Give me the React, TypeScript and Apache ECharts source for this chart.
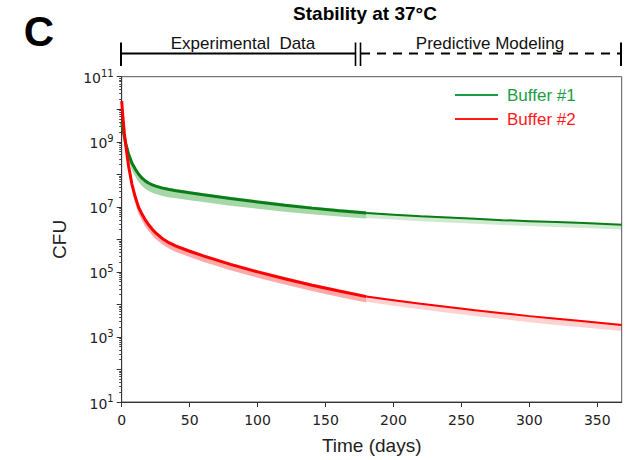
import React, { useEffect, useRef } from 'react';
import * as echarts from 'echarts';

// Time points (days)
const expDays = [0, 1, 2, 3, 5, 7.5, 10, 12.5, 15, 17.5, 20, 22.5, 25, 30, 35, 40, 50, 60, 80, 100, 120, 140, 160, 180];
const predDays = [180, 200, 220, 240, 260, 280, 300, 320, 340, 368];

// Buffer #1 (log10 CFU)
const b1Exp = [9.6, 9.35, 9.15, 8.95, 8.63, 8.35, 8.16, 8.0, 7.88, 7.79, 7.725, 7.675, 7.635, 7.575, 7.53, 7.495, 7.43, 7.37, 7.255, 7.15, 7.05, 6.96, 6.88, 6.81];
const b1ExpHi = [9.65, 9.4, 9.2, 9.0, 8.68, 8.4, 8.21, 8.05, 7.93, 7.84, 7.775, 7.725, 7.685, 7.625, 7.58, 7.545, 7.48, 7.42, 7.305, 7.2, 7.1, 7.01, 6.93, 6.86];
const b1ExpLo = [9.5, 9.22, 9.0, 8.78, 8.43, 8.13, 7.93, 7.76, 7.64, 7.55, 7.485, 7.435, 7.395, 7.335, 7.29, 7.265, 7.2, 7.15, 7.035, 6.94, 6.85, 6.77, 6.7, 6.64];
const b1Pred = [6.81, 6.76, 6.71, 6.67, 6.63, 6.59, 6.56, 6.53, 6.5, 6.45];
const b1PredHi = [6.84, 6.79, 6.74, 6.7, 6.66, 6.62, 6.59, 6.56, 6.53, 6.48];
const b1PredLo = [6.66, 6.61, 6.56, 6.52, 6.48, 6.44, 6.41, 6.38, 6.35, 6.3];

// Buffer #2 (log10 CFU)
const b2Exp = [10.25, 9.7, 9.25, 8.88, 8.27, 7.7, 7.3, 6.98, 6.77, 6.59, 6.44, 6.31, 6.2, 6.02, 5.89, 5.79, 5.635, 5.49, 5.23, 5.0, 4.79, 4.59, 4.41, 4.24];
const b2ExpHi = [10.3, 9.75, 9.3, 8.93, 8.32, 7.75, 7.35, 7.03, 6.82, 6.64, 6.49, 6.36, 6.25, 6.07, 5.94, 5.84, 5.685, 5.54, 5.28, 5.05, 4.84, 4.64, 4.46, 4.29];
const b2ExpLo = [10.15, 9.55, 9.08, 8.7, 8.08, 7.5, 7.1, 6.78, 6.57, 6.39, 6.25, 6.12, 6.01, 5.84, 5.71, 5.61, 5.455, 5.31, 5.05, 4.82, 4.61, 4.41, 4.23, 4.06];
const b2Pred = [4.24, 4.13, 4.02, 3.92, 3.82, 3.73, 3.64, 3.56, 3.48, 3.37];
const b2PredHi = [4.27, 4.16, 4.05, 3.95, 3.85, 3.76, 3.67, 3.59, 3.51, 3.4];
const b2PredLo = [4.08, 3.96, 3.85, 3.74, 3.64, 3.55, 3.45, 3.37, 3.29, 3.18];

// Axis ticks
const xTicks = [0, 50, 100, 150, 200, 250, 300, 350];
const yMajorExps = [1, 2, 3, 4, 5, 6, 7, 8, 9, 10, 11];
const yLabelExps = [1, 3, 5, 7, 9, 11];
const yMinorMults = [2, 3, 4, 5, 6, 7, 8, 9];

const SANS = '"Liberation Sans", Arial, sans-serif';
const TICKFONT = '"DejaVu Sans", sans-serif';

const p10 = (e: number) => Math.pow(10, e);
const toPts = (days: number[], v: number[]) => days.map((d, i) => [d, p10(v[i])]);

function band(days: number[], hi: number[], lo: number[], fill: string) {
  return {
    type: 'custom',
    coordinateSystem: 'cartesian2d',
    silent: true,
    z: 1,
    clip: true,
    data: [[days[0], p10(hi[0])]],
    renderItem: (_params: any, api: any) => {
      const top = days.map((d, i) => api.coord([d, p10(hi[i])]));
      const bot = days.map((d, i) => api.coord([d, p10(lo[i])])).reverse();
      return {
        type: 'polygon',
        shape: { points: top.concat(bot) },
        style: { fill },
      };
    },
  };
}

function lineSeries(name: string, days: number[], v: number[], color: string, width: number) {
  return {
    name,
    type: 'line',
    data: toPts(days, v),
    symbol: 'none',
    smooth: false,
    z: 3,
    lineStyle: { color, width },
    itemStyle: { color },
  };
}

export default function App() {
  const ref = useRef<HTMLDivElement>(null);
  useEffect(() => {
    if (!ref.current) return;
    const chart = echarts.init(ref.current, undefined, { renderer: 'svg' });
    const minorVals: number[] = [];
    yMajorExps.slice(0, -1).forEach((e) => yMinorMults.forEach((m) => minorVals.push(m * p10(e))));
    const green = '#0b7d18';
    const red = '#ff0000';
    const bracketY = 53.5;
    const tickTop = 42.5;
    const tickBot = 66;
    const option: any = {
      animation: false,
      backgroundColor: '#ffffff',
      title: {
        text: 'Stability at 37°C',
        left: 365,
        top: 4,
        textAlign: 'center',
        padding: 0,
        textStyle: { fontFamily: SANS, fontWeight: 'bold', fontSize: 19, color: '#000' },
      },
      legend: {
        orient: 'vertical',
        left: 455,
        top: 86,
        padding: 0,
        icon: 'rect',
        itemWidth: 43,
        itemHeight: 2,
        itemGap: 6,
        textStyle: { fontFamily: SANS, fontSize: 17, lineHeight: 18, padding: [0, 0, 0, 4] },
        data: [
          { name: 'Buffer #1', itemStyle: { color: '#1a9e45' }, textStyle: { color: '#1a9e45' } },
          { name: 'Buffer #2', itemStyle: { color: '#ff1a1a' }, textStyle: { color: '#ff1a1a' } },
        ],
      },
      grid: {
        left: 121.7,
        right: 6.3,
        top: 76.7,
        bottom: 57.7,
        show: true,
        borderColor: '#555',
        borderWidth: 1,
        backgroundColor: 'transparent',
      },
      xAxis: {
        type: 'value',
        min: 0,
        max: 368,
        name: 'Time (days)',
        nameLocation: 'middle',
        nameGap: 34,
        nameTextStyle: { fontFamily: SANS, fontSize: 19, color: '#222' },
        axisLine: { show: true, lineStyle: { color: '#333', width: 1 } },
        axisTick: { show: true, length: 5, lineStyle: { color: '#333' }, customValues: xTicks },
        axisLabel: { customValues: xTicks, fontFamily: TICKFONT, fontSize: 14, color: '#222', margin: 11 },
        splitLine: { show: false },
      },
      yAxis: [
        {
          type: 'log',
          logBase: 10,
          min: 10,
          max: 1e11,
          name: 'CFU',
          nameLocation: 'middle',
          nameRotate: 90,
          nameGap: 53,
          nameTextStyle: { fontFamily: SANS, fontSize: 19, color: '#222' },
          axisLine: { show: true, lineStyle: { color: '#333', width: 1 } },
          axisTick: { show: true, length: 5, lineStyle: { color: '#333' }, customValues: yMajorExps.map(p10) },
          axisLabel: {
            customValues: yLabelExps.map(p10),
            margin: 8,
            formatter: (val: number) => `{b|10}{s|${Math.round(Math.log10(val))}}`,
            rich: {
              b: { fontFamily: TICKFONT, fontSize: 14, color: '#222', verticalAlign: 'bottom', lineHeight: 17 },
              s: { fontFamily: TICKFONT, fontSize: 10, color: '#222', verticalAlign: 'top', lineHeight: 17 },
            },
          },
          splitLine: { show: false },
        },
        {
          type: 'log',
          logBase: 10,
          min: 10,
          max: 1e11,
          position: 'left',
          axisLine: { show: false },
          axisTick: { show: true, length: 2.5, lineStyle: { color: '#444' }, customValues: minorVals },
          axisLabel: { show: false },
          splitLine: { show: false },
        },
      ],
      series: [
        band(expDays, b1ExpHi, b1ExpLo, 'rgba(20,150,20,0.38)'),
        band(predDays, b1PredHi, b1PredLo, 'rgba(20,150,20,0.2)'),
        band(expDays, b2ExpHi, b2ExpLo, 'rgba(255,30,30,0.38)'),
        band(predDays, b2PredHi, b2PredLo, 'rgba(255,30,30,0.2)'),
        lineSeries('Buffer #1', expDays, b1Exp, green, 3),
        lineSeries('Buffer #1', predDays, b1Pred, green, 2),
        lineSeries('Buffer #2', expDays, b2Exp, red, 3),
        lineSeries('Buffer #2', predDays, b2Pred, red, 2),
      ],
      graphic: [
        { type: 'text', x: 39, y: 31, style: { text: 'C', font: `bold 42px ${SANS}`, fill: '#000', align: 'center', verticalAlign: 'middle' } },
        { type: 'text', x: 243, y: 43, style: { text: 'Experimental  Data', font: `17px ${SANS}`, fill: '#111', align: 'center', verticalAlign: 'middle' } },
        { type: 'text', x: 490, y: 43, style: { text: 'Predictive Modeling', font: `17px ${SANS}`, fill: '#111', align: 'center', verticalAlign: 'middle' } },
        { type: 'line', shape: { x1: 121, y1: tickTop, x2: 121, y2: tickBot }, style: { stroke: '#000', lineWidth: 2 } },
        { type: 'line', shape: { x1: 121, y1: bracketY, x2: 355, y2: bracketY }, style: { stroke: '#000', lineWidth: 2 } },
        { type: 'line', shape: { x1: 355.5, y1: tickTop, x2: 355.5, y2: tickBot }, style: { stroke: '#000', lineWidth: 1.6 } },
        { type: 'line', shape: { x1: 360.5, y1: tickTop, x2: 360.5, y2: tickBot }, style: { stroke: '#000', lineWidth: 1.6 } },
        { type: 'line', shape: { x1: 361, y1: bracketY, x2: 621, y2: bracketY }, style: { stroke: '#000', lineWidth: 2, lineDash: [9, 7] } },
        { type: 'line', shape: { x1: 621, y1: tickTop, x2: 621, y2: tickBot }, style: { stroke: '#000', lineWidth: 2 } },
      ],
    };
    chart.setOption(option);
    return () => chart.dispose();
  }, []);
  return <div ref={ref} style={{ position: 'absolute', left: 0, top: 0, width: 628, height: 460 }} />;
}
